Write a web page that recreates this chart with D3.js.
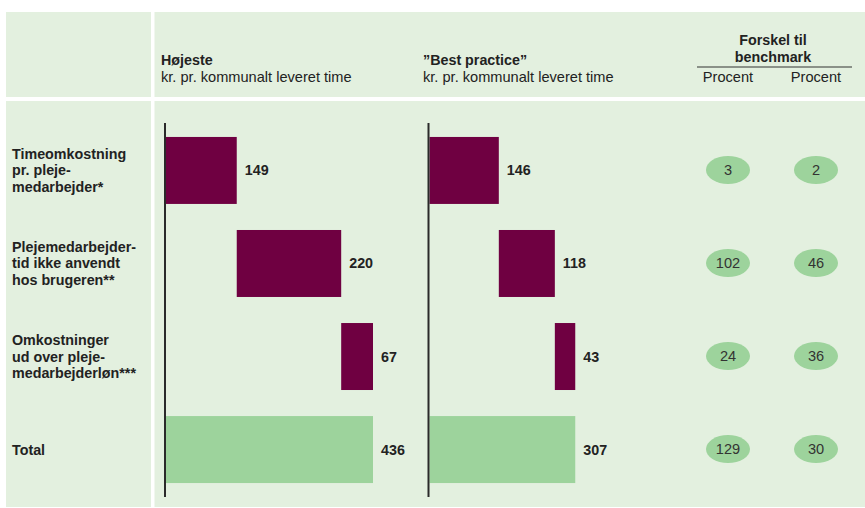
<!DOCTYPE html>
<html><head><meta charset="utf-8">
<script src="https://cdn.jsdelivr.net/npm/d3@7"></script>
<style>body{margin:0;background:#fff}svg{display:block;font-family:"Liberation Sans",Arial,Helvetica,sans-serif}</style>
</head><body><svg id="c" width="865" height="508"></svg>
<script>
const categories = [
  ["Timeomkostning","pr. pleje-","medarbejder*"],
  ["Plejemedarbejder-","tid ikke anvendt","hos brugeren**"],
  ["Omkostninger","ud over pleje-","medarbejderløn***"],
  ["Total"]
];
const highestValues = [149, 220, 67, 436];
const bestValues = [146, 118, 43, 307];
const pctA = [3, 102, 24, 129];
const pctB = [2, 46, 36, 30];
const isTotal = [false, false, false, true];

const svg = d3.select("#c");
const bg = "#e3f0df", purple = "#6f0041", green = "#9dd39c", txt = "#222";

// panels
svg.append("rect").attr("x",6).attr("y",12).attr("width",145).attr("height",85).attr("fill",bg);
svg.append("rect").attr("x",154.5).attr("y",12).attr("width",711).attr("height",85).attr("fill",bg);
svg.append("rect").attr("x",6).attr("y",101).attr("width",145).attr("height",406).attr("fill",bg);
svg.append("rect").attr("x",154.5).attr("y",101).attr("width",711).attr("height",406).attr("fill",bg);

// headers
const fs = 14.6, fb = 14.3;
function hdr(x, bold, sub){
  svg.append("text").attr("x",x).attr("y",65).attr("font-size",fb).attr("font-weight","bold").attr("fill",txt).text(bold);
  svg.append("text").attr("x",x).attr("y",82).attr("font-size",fs).attr("fill",txt).text(sub);
}
hdr(161, "Højeste", "kr. pr. kommunalt leveret time");
hdr(423, "\u201DBest practice\u201D", "kr. pr. kommunalt leveret time");
svg.append("text").attr("x",773).attr("y",45).attr("text-anchor","middle").attr("font-size",fb).attr("font-weight","bold").attr("fill",txt).text("Forskel til");
svg.append("text").attr("x",773).attr("y",62).attr("text-anchor","middle").attr("font-size",fb).attr("font-weight","bold").attr("fill",txt).text("benchmark");
svg.append("line").attr("x1",697).attr("x2",852).attr("y1",67).attr("y2",67).attr("stroke","#333").attr("stroke-width",1.2);

const pctX = [728, 816];
pctX.forEach(x=>svg.append("text").attr("x",x).attr("y",82).attr("text-anchor","middle").attr("font-size",fs).attr("fill",txt).text("Procent"));

// scales
const y = d3.scaleBand().domain(d3.range(categories.length)).range([123, 497]).paddingInner(0.28).paddingOuter(0.15);
const maxV = 436;
const xL = d3.scaleLinear().domain([0, maxV]).range([166, 373]);
const xR = d3.scaleLinear().domain([0, maxV]).range([429.5, 636.5]);

// row labels
categories.forEach((lines,i)=>{
  const cy = y(i) + y.bandwidth()/2;
  const lh = 16.7;
  const t = svg.append("text").attr("font-size",fb).attr("font-weight","bold").attr("fill",txt);
  lines.forEach((l,j)=>{
    t.append("tspan").attr("x",12).attr("y", cy + (j - (lines.length-1)/2)*lh + 5).text(l);
  });
});

function waterfall(xs, vals){
  let cum = 0;
  vals.forEach((v,i)=>{
    let x0, x1;
    if(isTotal[i]){ x0 = xs(0); x1 = xs(v); }
    else { x0 = xs(cum); x1 = xs(cum+v); cum += v; }
    svg.append("rect").attr("x",x0).attr("y",y(i)).attr("width",x1-x0).attr("height",y.bandwidth())
      .attr("fill", isTotal[i] ? green : purple);
    svg.append("text").attr("x",x1+8).attr("y",y(i)+y.bandwidth()/2+5).attr("font-size",fb).attr("font-weight","bold").attr("fill",txt).text(v);
  });
  svg.append("line").attr("x1",xs(0)-1).attr("x2",xs(0)-1).attr("y1",123).attr("y2",497).attr("stroke","#2a2a2a").attr("stroke-width",2);
}
waterfall(xL, highestValues);
waterfall(xR, bestValues);

// percent ellipses
[pctA, pctB].forEach((arr,k)=>{
  arr.forEach((v,i)=>{
    const cy = y(i)+y.bandwidth()/2 - 0.5;
    svg.append("ellipse").attr("cx",pctX[k]).attr("cy",cy).attr("rx",22).attr("ry",14).attr("fill",green);
    svg.append("text").attr("x",pctX[k]).attr("y",cy+5).attr("text-anchor","middle").attr("font-size",fs).attr("fill","#333").text(v);
  });
});
</script></body></html>
